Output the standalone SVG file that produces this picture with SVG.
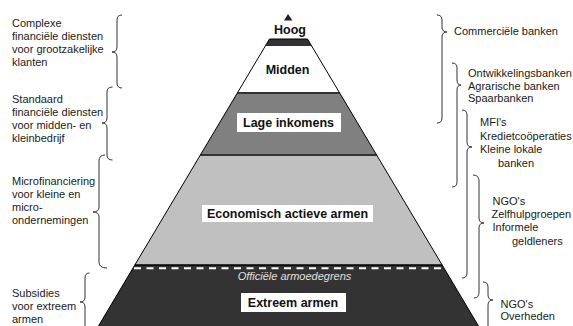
<svg xmlns="http://www.w3.org/2000/svg" width="573" height="326" viewBox="0 0 573 326">
<style>
text{font-family:"Liberation Sans",Arial,sans-serif;fill:#1a1a1a}
.side{font-size:11px}
.lbl{font-size:12.5px;font-weight:bold;text-anchor:middle;fill:#111}
.brace{fill:none;stroke:#333;stroke-width:1}
.box{fill:#fff}
</style>
<rect width="573" height="326" fill="#fff"/>
<g id="pyramid">
  <polygon id="cap" points="269.5,39 307.5,39 311.7,46 265.3,46" fill="#333"/>
  <polygon id="midden-band" points="265.3,46 311.7,46 339.7,93 237.3,93" fill="#fff"/>
  <polygon id="lage-band" points="237.3,93 339.7,93 376.6,155 200.4,155" fill="#808080"/>
  <polygon id="actief-band" points="200.4,155 376.6,155 442.2,265 134.8,265" fill="#c0c0c0"/>
  <polygon id="extreem-band" points="134.8,265 442.2,265 480.9,330 96.1,330" fill="#333"/>
  <line x1="237.3" y1="93" x2="339.7" y2="93" stroke="#333" stroke-width="2"/>
  <line x1="200.4" y1="155" x2="376.6" y2="155" stroke="#333" stroke-width="2"/>
  <line x1="134.8" y1="265" x2="442.2" y2="265" stroke="#000" stroke-width="1.5"/>
  <line x1="134" y1="268.3" x2="444" y2="268.3" stroke="#fff" stroke-width="2" stroke-dasharray="7 5.5"/>
  <path d="M269.5,39 L96.1,330 M307.5,39 L480.9,330 M269.5,39 L307.5,39" fill="none" stroke="#000" stroke-width="1"/>
  <polygon id="apex" points="288,14 284,20.5 292.5,20.5" fill="#222"/>
</g>
<g id="node-hoog"><text class="lbl" x="290" y="34">Hoog</text></g>
<g id="node-midden"><text class="lbl" x="287.5" y="74">Midden</text></g>
<g id="node-lage"><rect class="box" x="237" y="113" width="104" height="19"/><text class="lbl" x="288.5" y="127">Lage inkomens</text></g>
<g id="node-actief"><rect class="box" x="202" y="205" width="171" height="17"/><text class="lbl" x="287.5" y="218">Economisch actieve armen</text></g>
<g id="node-grens"><text x="294.5" y="279.5" style="font-size:11px;font-style:italic;text-anchor:middle;fill:#e0e0e0">Officiële armoedegrens</text></g>
<g id="node-extreem"><rect class="box" x="241" y="293" width="105" height="19"/><text class="lbl" x="293" y="307">Extreem armen</text></g>
<g id="connectors">
  <path class="brace" d="M122,15 Q117,15 117,20 L117,47 Q117,52 112,52 Q117,52 117,57 L117,83 Q117,88 122,88"/>
  <path class="brace" d="M112.5,87 Q107,87 107,92 L107,118 Q107,123 102,123 Q107,123 107,128 L107,155 Q107,160 112.5,160"/>
  <path class="brace" d="M105,155 Q99,155 99,161 L99,207 Q99,212 93,212 Q99,212 99,217 L99,262 Q99,268 107,268"/>
  <path class="brace" d="M89.5,273 Q85,273 85,278 L85,297 Q85,302 80,302 Q85,302 85,307 L85,340"/>
  <path class="brace" d="M437,15 Q442,15 442,20 L442,27 Q442,32 447,32 Q442,32 442,37 L442,118 Q442,123 437,123"/>
  <path class="brace" d="M452,63 Q457,63 457,68 L457,80 Q457,85 461,85 Q457,85 457,90 L457,182 Q457,187 452,187"/>
  <path class="brace" d="M462,110 Q467,110 467,115 L467,142 Q467,147 472,147 Q467,147 467,152 L467,273 Q467,278 462,278"/>
  <path class="brace" d="M473,175 Q479,175 479,181 L479,218 Q479,223 484,223 Q479,223 479,228 L479,292 Q479,298 474,298"/>
  <path class="brace" d="M483,282 Q488,282 488,287 L488,295 Q488,300 493,300 Q488,300 488,305 L488,340"/>
</g>
<g id="left-texts" class="side">
  <text x="12" y="27">Complexe</text>
  <text x="12" y="40">financiële diensten</text>
  <text x="12" y="53">voor grootzakelijke</text>
  <text x="12" y="66">klanten</text>
  <text x="12" y="102.5">Standaard</text>
  <text x="12" y="115.5">financiële diensten</text>
  <text x="12" y="128.5">voor midden- en</text>
  <text x="12" y="141.5">kleinbedrijf</text>
  <text x="12" y="185">Microfinanciering</text>
  <text x="12" y="198">voor kleine en</text>
  <text x="12" y="211">micro-</text>
  <text x="12" y="224">ondernemingen</text>
  <text x="12" y="297">Subsidies</text>
  <text x="12" y="310">voor extreem</text>
  <text x="12" y="323">armen</text>
</g>
<g id="right-texts" class="side">
  <text x="454" y="34.5">Commerciële banken</text>
  <text x="468" y="77">Ontwikkelingsbanken</text>
  <text x="468" y="89.5">Agrarische banken</text>
  <text x="468" y="102">Spaarbanken</text>
  <text x="480" y="126">MFI's</text>
  <text x="480" y="139.5">Kredietcoöperaties</text>
  <text x="480" y="153">Kleine lokale</text>
  <text x="498" y="166.5">banken</text>
  <text x="492.5" y="204.5">NGO's</text>
  <text x="491.5" y="218">Zelfhulpgroepen</text>
  <text x="492.5" y="231">Informele</text>
  <text x="512" y="244.5">geldleners</text>
  <text x="500.5" y="308">NGO's</text>
  <text x="500.5" y="320">Overheden</text>
</g>
</svg>
